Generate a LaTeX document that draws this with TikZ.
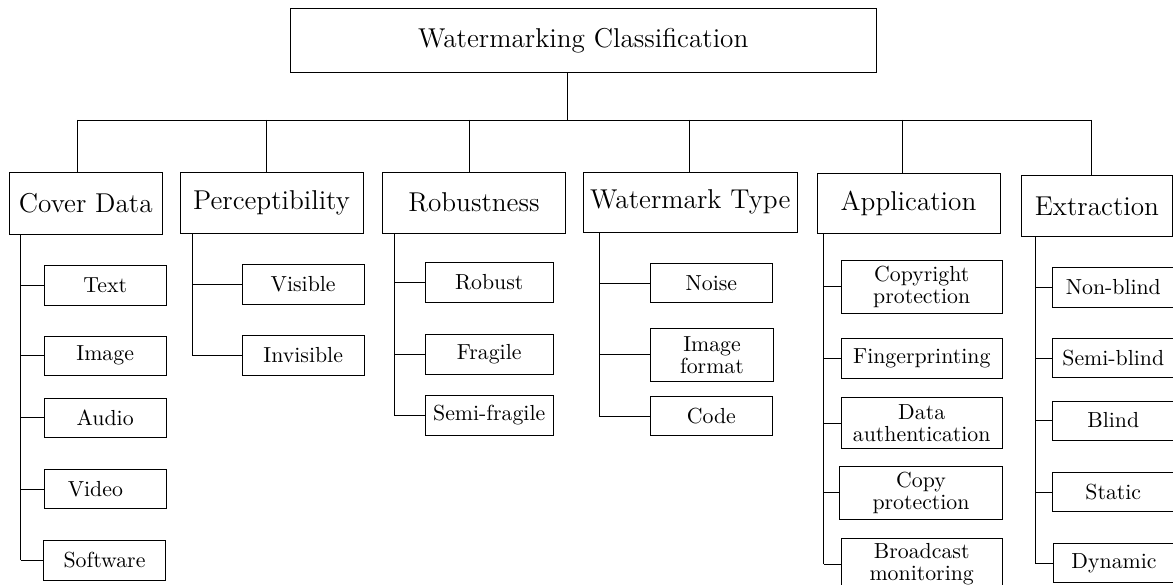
\documentclass[tikz,border=0pt]{standalone}
\begin{document}
\def\pxu{0.4587pt}
\begin{tikzpicture}[x=\pxu,y=-\pxu,
  box/.style n args={2}{draw, inner sep=0pt, minimum width=#1*\pxu,
    minimum height=#2*\pxu, align=center},
  head/.style={font=\fontsize{12.5}{15}\selectfont},
  leaf/.style={font=\normalsize},
  wire/.style={line width=0.45pt}]
\useasboundingbox (0,0) rectangle (1173,585);

% root
\node[box={585.5}{64.7}, head] (root) at (583.25,40.35) {Watermarking Classification};

% first level
\node[box={153}{61.7}, head]   (cover)  at (85.8,203.2)  {Cover Data};
\node[box={183}{60.7}, head]   (percep) at (271.5,202.7) {Perceptibility};
\node[box={183.3}{60.7}, head] (robust) at (474,202.7)   {Robustness};
\node[box={214.5}{60.3}, head] (wmtype) at (690.3,202.2) {Watermark Type};
\node[box={183}{60.3}, head]   (appl)   at (908.5,203.2) {Application};
\node[box={151.7}{61.7}, head] (extr)   at (1096.9,205.9) {Extraction};

% cover data
\node[box={121.7}{39.7}, leaf] (c1) at (105.2,285.2) {Text};
\node[box={121.7}{39}, leaf]   (c2) at (105.2,355.8) {Image};
\node[box={121.7}{39}, leaf]   (c3) at (105.2,417.8) {Audio};
\node[box={121.7}{39.4}, leaf] (c4) at (105.2,489)   {Video\hspace{9pt}};
\node[box={121.7}{39.3}, leaf] (c5) at (104.5,560.4) {Software};

% perceptibility
\node[box={121.7}{39.6}, leaf] (p1) at (303.2,284.5) {Visible};
\node[box={121.7}{39.3}, leaf] (p2) at (303.2,355.4) {Invisible};

% robustness
\node[box={128.3}{39.6}, leaf] (r1) at (489.2,282.5) {Robust};
\node[box={128.3}{40}, leaf]   (r2) at (489.2,354)   {Fragile};
\node[box={128.3}{39.6}, leaf] (r3) at (489.2,415.5) {Semi-fragile};

% watermark type
\node[box={122}{39}, leaf]     (w1) at (711.3,283.2) {Noise};
\node[box={123.4}{52.3}, leaf] (w2) at (712,354.9)   {Image\\[-1.8pt]format};
\node[box={122}{39.4}, leaf]   (w3) at (711.3,416)   {Code};

% application
\node[box={161.3}{52.7}, leaf] (a1) at (921.7,286.7) {Copyright\\[-1.8pt]protection};
\node[box={161.3}{39.3}, leaf] (a2) at (921.7,358.3) {Fingerprinting};
\node[box={161.3}{50.6}, leaf] (a3) at (921.7,423)   {Data\\[-1.8pt]authentication};
\node[box={162.6}{52.3}, leaf] (a4) at (921,492.8)   {Copy\\[-1.8pt]protection};
\node[box={161.3}{52.6}, leaf] (a5) at (921.7,564.3) {Broadcast\\[-1.8pt]monitoring};

% extraction
\node[box={122}{39.3}, leaf] (e1) at (1113.3,287.3) {Non-blind};
\node[box={122}{39}, leaf]   (e2) at (1113.3,358.2) {Semi-blind};
\node[box={122}{39}, leaf]   (e3) at (1113.3,420.5) {Blind};
\node[box={122}{39.4}, leaf] (e4) at (1113.3,492)   {Static};
\node[box={122}{39.4}, leaf] (e5) at (1114,563)     {Dynamic};

% bus from the root to the first level
\coordinate (jr) at (567.5,120);
\coordinate (j1) at (77,120);
\coordinate (j2) at (266.4,120);
\coordinate (j3) at (469.6,120);
\coordinate (j4) at (689.7,120);
\coordinate (j5) at (902.6,120);
\coordinate (j6) at (1091.3,120);
\draw[wire] (jr |- root.south) -- (jr);
\draw[wire] (j1) -- (j6);
\foreach \j/\n in {j1/cover, j2/percep, j3/robust, j4/wmtype, j5/appl, j6/extr}
  \draw[wire] (\j) -- (\j |- \n.north);

% trunks down the left side of each group
\coordinate (tc) at (20.7,0);
\coordinate (tp) at (192,0);
\coordinate (tr) at (394.3,0);
\coordinate (tw) at (599.3,0);
\coordinate (ta) at (823.7,0);
\coordinate (te) at (1035,0);

\draw[wire] (tc |- cover.south)  -- (tc |- c5.west);
\draw[wire] (tp |- percep.south) -- (tp |- p2.west);
\draw[wire] (tr |- robust.south) -- (tr |- r3.west);
\draw[wire] (tw |- wmtype.south) -- (tw |- w3.west);
\draw[wire] (ta |- appl.south)   -- (ta |- a5.west);
\draw[wire] (te |- extr.south)   -- (te |- e5.west);

\foreach \n in {c1,c2,c3,c4,c5} \draw[wire] (tc |- \n.west) -- (\n.west);
\foreach \n in {p1,p2}          \draw[wire] (tp |- \n.west) -- (\n.west);
\foreach \n in {r1,r2,r3}       \draw[wire] (tr |- \n.west) -- (\n.west);
\foreach \n in {w1,w2,w3}       \draw[wire] (tw |- \n.west) -- (\n.west);
\foreach \n in {a1,a2,a3,a4,a5} \draw[wire] (ta |- \n.west) -- (\n.west);
\foreach \n in {e1,e2,e3,e4,e5} \draw[wire] (te |- \n.west) -- (\n.west);
\end{tikzpicture}
\end{document}
